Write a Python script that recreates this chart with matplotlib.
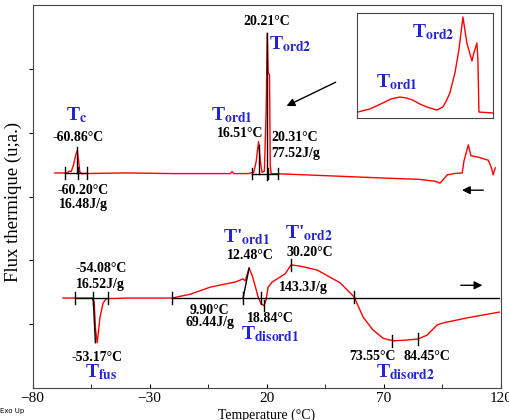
import matplotlib.pyplot as plt

plt.rcParams['font.family'] = 'Liberation Serif'
plt.rcParams['mathtext.fontset'] = 'stix'

# cooling run (upper curve), temperature in C, flux in arbitrary units
cool_t = [-70.5, -66.0, -65.0, -64.2, -63.5, -62.5, -61.5, -60.9, -60.3, -59.8, -59.0,
          -40.0, -20.0, 0.0, 4.5, 5.2, 5.9, 12.0, 14.5, 15.5, 16.5, 17.3, 18.0, 19.0,
          19.8, 20.2, 20.6, 21.2, 21.5, 21.9, 30.0, 50.0, 70.0, 85.0, 92.0, 94.0, 95.5,
          97.1, 100.0, 103.5, 104.2, 106.1, 107.2, 110.0, 114.6, 116.0, 116.7, 117.6]
cool_f = [3.37, 3.37, 3.38, 3.40, 3.39, 3.50, 3.66, 3.72, 3.55, 3.38, 3.36,
          3.37, 3.36, 3.36, 3.36, 3.39, 3.36, 3.36, 3.38, 3.55, 3.86, 3.55, 3.38, 3.40,
          4.40, 5.56, 4.95, 4.90, 3.50, 3.36, 3.35, 3.32, 3.29, 3.27, 3.24, 3.21, 3.27,
          3.34, 3.36, 3.37, 3.55, 3.81, 3.64, 3.62, 3.57, 3.45, 3.34, 3.45]

# heating run (lower curve)
heat_t = [-67.0, -62.0, -54.6, -53.7, -53.1, -52.4, -51.2, -49.9, -48.6, -40.0, -20.4,
          -12.7, -4.2, 2.2, 6.5, 9.9, 10.8, 12.5, 13.8, 15.0, 16.3, 17.6, 18.9, 19.7,
          20.6, 22.3, 24.9, 27.9, 30.4, 34.3, 41.5, 51.3, 57.3, 61.2, 65.4, 69.7, 74.0,
          79.1, 84.7, 88.5, 92.8, 95.3, 105.6, 119.3]
heat_f = [1.41, 1.41, 1.41, 1.35, 0.91, 0.71, 1.11, 1.33, 1.40, 1.41, 1.41,
          1.47, 1.58, 1.63, 1.66, 1.71, 1.68, 1.88, 1.76, 1.61, 1.43, 1.32, 1.29, 1.38,
          1.58, 1.66, 1.72, 1.79, 1.93, 1.91, 1.85, 1.65, 1.43, 1.11, 0.91, 0.78, 0.74,
          0.75, 0.77, 0.83, 0.99, 1.02, 1.10, 1.19]

# inset: enlarged ordering peaks of the cooling run
zoom_t = [14.03, 14.74, 15.50, 15.97, 16.50, 16.91, 17.26, 17.68, 18.09, 18.68, 19.03,
          19.20, 19.44, 19.74, 19.97, 20.21, 20.44, 20.74, 20.85, 21.03, 21.09, 21.15, 21.97]
zoom_f = [0.057, 0.086, 0.143, 0.181, 0.200, 0.190, 0.171, 0.133, 0.105, 0.076, 0.105,
          0.152, 0.238, 0.430, 0.648, 0.962, 0.714, 0.543, 0.619, 0.714, 0.552, 0.057, 0.048]

# baseline constructions (x start, x end, level) and tick marks (x, level)
base_lines = [(-66.1, -56.7, 3.37), (13.8, 24.9, 3.36), (-61.8, -47.7, 1.41), (-20.4, 119.3, 1.41)]
base_ticks = [(-66.1, 3.37), (-60.6, 3.37), (-56.7, 3.37), (13.8, 3.36), (20.6, 3.36), (24.9, 3.36),
              (-61.8, 1.41), (-54.2, 1.41), (-47.7, 1.41), (-20.4, 1.41), (9.9, 1.41), (17.6, 1.41),
              (18.84, 1.29), (30.2, 1.93), (57.3, 1.43), (73.55, 0.74), (84.45, 0.77)]
peak_lines = [((-60.86, -60.86), (3.37, 3.78)), ((16.51, 16.51), (3.36, 3.80)),
              ((20.21, 20.21), (3.26, 5.56)), ((-54.1, -53.17), (1.41, 0.71)),
              ((9.9, 12.48), (1.41, 1.88))]

black_labels = [(-60.6, 3.93, '-60.86°C'), (-58.4, 3.09, '-60.20°C'), (-58.4, 2.87, '16.48J/g'),
                (8.8, 3.98, '16.51°C'), (20.2, 5.74, '20.21°C'), (32.1, 3.92, '20.31°C'),
                (32.5, 3.68, '77.52J/g'), (-50.8, 1.88, '-54.08°C'), (-51.2, 1.63, '16.52J/g'),
                (-52.4, 0.48, '-53.17°C'), (12.9, 2.08, '12.48°C'), (-4.6, 1.22, '9.90°C'),
                (-4.2, 1.02, '69.44J/g'), (21.4, 1.09, '18.84°C'), (38.2, 2.13, '30.20°C'),
                (35.5, 1.58, '143.3J/g'), (65.0, 0.49, '73.55°C'), (88.5, 0.49, '84.45°C')]
blue_labels = [(-61.0, 4.28, 'T', 'c'), (5.2, 4.28, 'T', 'ord1'),
               (30.0, 5.39, 'T', 'ord2'), (-50.8, 0.25, 'T', 'fus'),
               (11.2, 2.37, "T'", 'ord1'), (38.2, 2.43, "T'", 'ord2'),
               (21.4, 0.84, 'T', 'disord1'), (79.1, 0.25, 'T', 'disord2')]


def tlabel(base, sub):
    return base + r'$_{\mathbf{' + sub + '}}$'


blue = '#2323d2'

fig = plt.figure(figsize=(5.09, 4.2), dpi=100)
ax = fig.add_axes([0.064, 0.076, 0.92, 0.912])

ax.plot(cool_t, cool_f, color='red', lw=1)
ax.plot(heat_t, heat_f, color='red', lw=1)

for x0, x1, y in base_lines:
    ax.plot([x0, x1], [y, y], color='black', lw=1)
for x, y in base_ticks:
    ax.plot([x, x], [y - 0.09, y + 0.09], color='black', lw=1)
for xs, ys in peak_lines:
    ax.plot(xs, ys, color='black', lw=1)

for x, y, s in black_labels:
    ax.text(x, y, s, ha='center', va='center', fontsize=10, fontweight='bold')
for x, y, b, s in blue_labels:
    ax.text(x, y, tlabel(b, s), ha='center', va='center', fontsize=14,
            fontweight='bold', color=blue)

# direction arrows
ax.annotate('', xy=(27.4, 4.40), xytext=(50.5, 4.81),
            arrowprops=dict(arrowstyle='-|>', color='black', lw=1, mutation_scale=12))
ax.annotate('', xy=(102.2, 3.10), xytext=(113.7, 3.10),
            arrowprops=dict(arrowstyle='-|>', color='black', lw=1, mutation_scale=12))
ax.annotate('', xy=(113.3, 1.61), xytext=(101.7, 1.61),
            arrowprops=dict(arrowstyle='-|>', color='black', lw=1, mutation_scale=12))

ax.set_xlim(-80, 120)
ax.set_ylim(0, 6)
ax.set_xticks([-80, -30, 20, 70, 120])
ax.set_xticks([-55, -5, 45, 95], minor=True)
ax.set_yticks([1, 2, 3, 4, 5])
ax.set_yticklabels([])
ax.tick_params(axis='x', direction='in', length=3, labelsize=11, pad=3)
ax.tick_params(axis='x', which='minor', direction='in', length=3)
ax.tick_params(axis='y', direction='out', length=3)
for sp in ax.spines.values():
    sp.set_color('#444444')
ax.set_xlabel('Temperature (°C)', fontsize=10, labelpad=2)

fig.text(0.026, 0.52, 'Flux thermique (u;a.)', rotation=90, ha='center', va='center', fontsize=13.5)
fig.text(0.0, 0.022, 'Exo Up', fontsize=5, family='DejaVu Sans', ha='left', va='center')

# inset
axi = fig.add_axes([0.701, 0.719, 0.267, 0.25])
axi.plot(zoom_t, zoom_f, color='red', lw=1)
axi.set_xlim(13.97, 21.96)
axi.set_ylim(0, 1)
axi.set_xticks([])
axi.set_yticks([])
for sp in axi.spines.values():
    sp.set_color('#444444')
axi.text(18.44, 0.82, tlabel('T', 'ord2'), ha='center', va='center', fontsize=14,
         fontweight='bold', color=blue)
axi.text(16.3, 0.343, tlabel('T', 'ord1'), ha='center', va='center', fontsize=14,
         fontweight='bold', color=blue)

fig.savefig('out.png', dpi=100)
